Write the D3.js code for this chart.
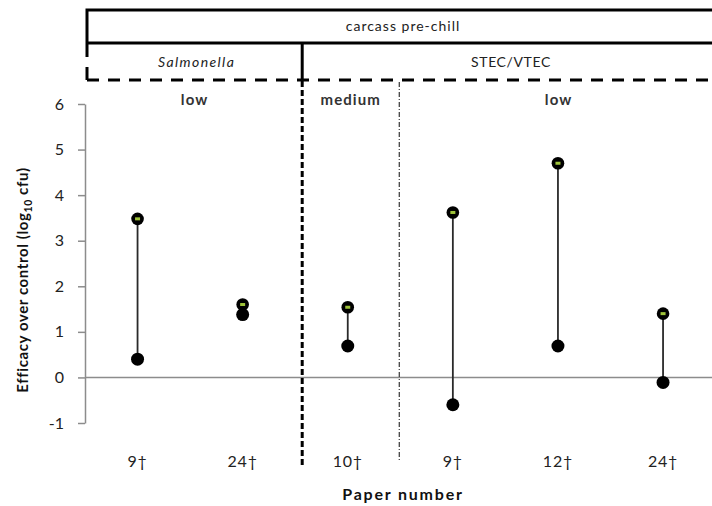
<!DOCTYPE html>
<html>
<head>
<meta charset="utf-8">
<script src="https://cdn.jsdelivr.net/npm/d3@7"></script>
<style>
  html, body { margin: 0; padding: 0; background: #fff; }
  svg { display: block; font-family: Lato, "Open Sans", sans-serif; }
</style>
</head>
<body>
<svg id="chart" width="712" height="506"></svg>
<script>
// Paper numbers along the x axis
const papers = ["9†", "24†", "10†", "9†", "12†", "24†"];
// Efficacy over control (log10 cfu): upper and lower ends of each range
const upper = [3.48, 1.6, 1.54, 3.62, 4.7, 1.4];
const lower = [0.4, 1.38, 0.69, -0.6, 0.69, -0.11];
// Header groupings (first and last paper index of each group)
const pathogens = [
  { name: "Salmonella", first: 0, last: 1, italic: true },
  { name: "STEC/VTEC", first: 2, last: 5, italic: false }
];
const levels = [
  { name: "low", first: 0, last: 1 },
  { name: "medium", first: 2, last: 2 },
  { name: "low", first: 3, last: 5 }
];
const stage = "carcass pre-chill";
const yTicks = [-1, 0, 1, 2, 3, 4, 5, 6];

const svg = d3.select("#chart");
const W = 712;

const x = d3.scaleBand().domain(d3.range(papers.length)).range([85, 85 + 6 * 105.1]).padding(0);
const y = d3.scaleLinear().domain([-1, 6]).range([423, 104]);
const cx = i => x(i) + x.bandwidth() / 2;

// y axis
const yAxis = d3.axisLeft(y).tickValues(yTicks).tickFormat(d => String(d))
  .tickSize(7).tickSizeOuter(0).tickPadding(14);
const ga = svg.append("g").attr("transform", "translate(85,0)").call(yAxis);
ga.select(".domain").attr("stroke", "#8c8c8c").attr("stroke-width", 1.5);
ga.selectAll(".tick line").attr("stroke", "#8c8c8c").attr("stroke-width", 1.5);
ga.selectAll(".tick text").attr("font-size", 16).attr("fill", "#222")
  .attr("font-family", "Lato, sans-serif");

// zero line
svg.append("line")
  .attr("x1", 85).attr("x2", W).attr("y1", y(0)).attr("y2", y(0))
  .attr("stroke", "#8c8c8c").attr("stroke-width", 1.5);

// group separators
const sepPathogen = x(2) + 7;   // between Salmonella and STEC/VTEC
const sepLevel = x(3) - 1;      // between medium and low
svg.append("line")
  .attr("x1", sepPathogen).attr("x2", sepPathogen).attr("y1", 81).attr("y2", 465)
  .attr("stroke", "#000").attr("stroke-width", 3).attr("stroke-dasharray", "6,3");
svg.append("line")
  .attr("x1", sepLevel).attr("x2", sepLevel).attr("y1", 82).attr("y2", 462)
  .attr("stroke", "#444").attr("stroke-width", 1.3).attr("stroke-dasharray", "5,2,1,2");

// header boxes
const hdrLeft = 87, hdrTop = 10, hdrMid = 43, hdrBot = 80;
svg.append("path")
  .attr("d", `M${W + 5},${hdrTop}H${hdrLeft}V${hdrMid}H${W + 5}M${hdrLeft},${hdrTop}V57`)
  .attr("fill", "none").attr("stroke", "#000").attr("stroke-width", 3);
svg.append("line")
  .attr("x1", sepPathogen).attr("x2", sepPathogen).attr("y1", hdrMid).attr("y2", hdrBot)
  .attr("stroke", "#000").attr("stroke-width", 3);
svg.append("line")
  .attr("x1", hdrLeft).attr("x2", hdrLeft).attr("y1", 67).attr("y2", hdrBot)
  .attr("stroke", "#000").attr("stroke-width", 3);
svg.append("line")
  .attr("x1", hdrLeft).attr("x2", W + 5).attr("y1", hdrBot).attr("y2", hdrBot)
  .attr("stroke", "#000").attr("stroke-width", 3).attr("stroke-dasharray", "12,9");

svg.append("text").text(stage)
  .attr("x", 403).attr("y", 31).attr("text-anchor", "middle")
  .attr("font-size", 14).attr("letter-spacing", 1).attr("fill", "#222");

pathogens.forEach((p, k) => {
  const mid = k === 0 ? (hdrLeft + sepPathogen) / 2 + 2 : 511;
  svg.append("text").text(p.name)
    .attr("x", mid).attr("y", 67).attr("text-anchor", "middle")
    .attr("font-size", 14).attr("fill", "#222")
    .attr("letter-spacing", p.italic ? 1.4 : 0.6)
    .attr("font-style", p.italic ? "italic" : "normal");
});

const levelBounds = [[hdrLeft, sepPathogen], [sepPathogen, sepLevel], [sepLevel, W]];
levels.forEach((l, k) => {
  const mid = (levelBounds[k][0] + levelBounds[k][1]) / 2 + (k === 2 ? 3 : 0);
  svg.append("text").text(l.name)
    .attr("x", mid).attr("y", 105).attr("text-anchor", "middle")
    .attr("font-size", 15).attr("letter-spacing", 1.1)
    .attr("font-weight", "bold").attr("fill", "#333");
});

// range stems
const idx = d3.range(papers.length);
svg.append("g").selectAll("line").data(idx).join("line")
  .attr("x1", cx).attr("x2", cx)
  .attr("y1", i => y(upper[i])).attr("y2", i => y(lower[i]))
  .attr("stroke", "#2a2a2a").attr("stroke-width", 1.8);

// lower ends
svg.append("g").selectAll("circle").data(idx).join("circle")
  .attr("cx", cx).attr("cy", i => y(lower[i])).attr("r", 6.5).attr("fill", "#000");

// upper ends: black dot with a small green centre
const tops = svg.append("g").selectAll("g").data(idx).join("g")
  .attr("transform", i => `translate(${cx(i)},${y(upper[i])})`);
tops.append("circle").attr("r", 6.3).attr("fill", "#000");
tops.append("rect").attr("x", -2.5).attr("y", -1.5).attr("width", 5).attr("height", 3)
  .attr("fill", "#9fc43a");

// x tick labels
svg.append("g").selectAll("text").data(idx).join("text")
  .attr("x", i => cx(i)).attr("y", 467).attr("text-anchor", "middle")
  .attr("font-size", 16).attr("letter-spacing", 0.8).attr("fill", "#222").text(i => papers[i]);

// axis titles
svg.append("text").text("Paper number")
  .attr("x", 403).attr("y", 500).attr("text-anchor", "middle")
  .attr("font-size", 16).attr("letter-spacing", 1.8).attr("font-weight", "bold").attr("fill", "#111");

const yt = svg.append("text")
  .attr("transform", "translate(28,280) rotate(-90)")
  .attr("text-anchor", "middle").attr("font-size", 15).attr("letter-spacing", 0.6)
  .attr("font-weight", "bold").attr("fill", "#111");
yt.append("tspan").text("Efficacy over control (log");
yt.append("tspan").attr("font-size", 10.5).attr("dy", 4).text("10");
yt.append("tspan").attr("dy", -4).text(" cfu)");
</script>
</body>
</html>
